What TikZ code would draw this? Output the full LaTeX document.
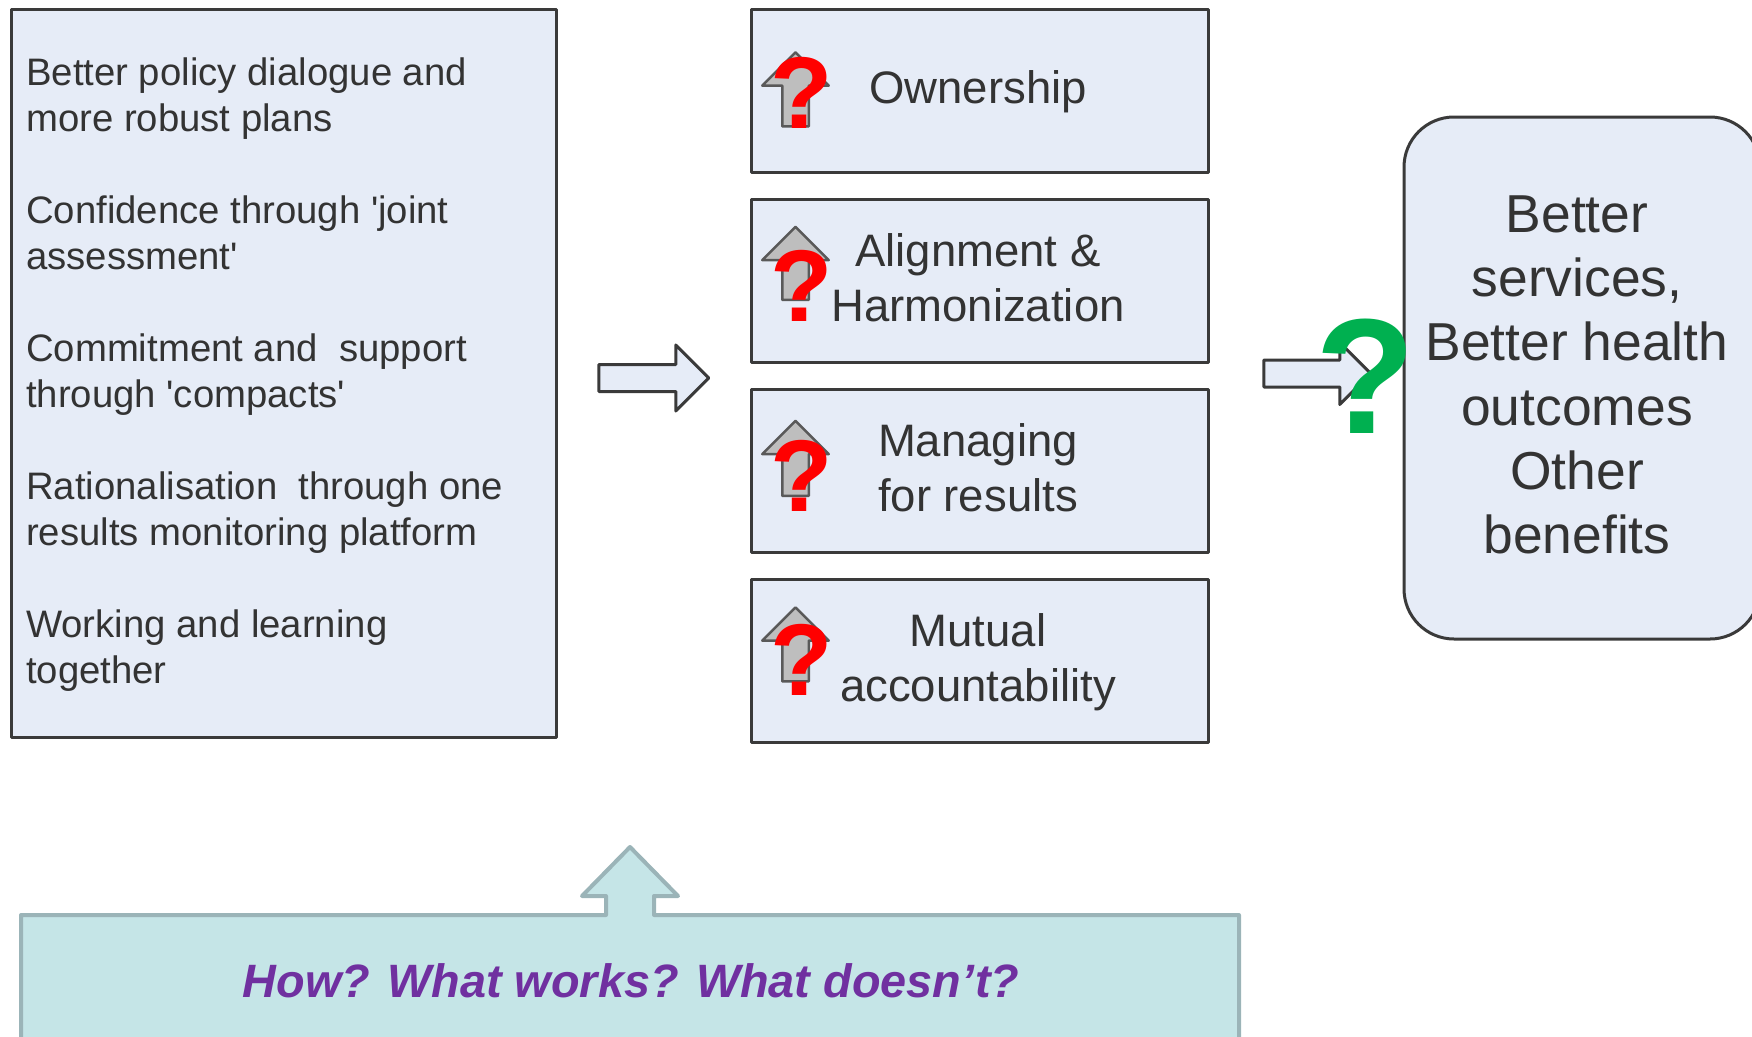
\documentclass[tikz,border=0pt]{standalone}
\usepackage{fontspec}
\setmainfont{Liberation Sans}
\usetikzlibrary{shapes.arrows}
\definecolor{boxfill}{HTML}{E6ECF7}
\definecolor{boxline}{HTML}{3A3A3A}
\definecolor{panelfill}{HTML}{C5E5E7}
\definecolor{panelline}{HTML}{9BB4B8}
\definecolor{upgrey}{HTML}{BEBEBE}
\definecolor{askgreen}{HTML}{00B050}
\definecolor{askpurple}{HTML}{7030A0}
\tikzset{
   panel/.style={rectangle, draw=boxline, fill=boxfill, line width=3pt, line join=round, inner sep=0},
   midbox/.style={panel, minimum width=457, minimum height=163},
   midtext/.style={inner sep=0, align=center, text=black!80, font=\fontsize{45.5}{55}\selectfont},
   leftline/.style={anchor=west, align=left, inner sep=0, text=black!80, font=\fontsize{38.3}{46}\selectfont},
   flow/.style={single arrow, draw=boxline, fill=boxfill, line width=3pt, line join=round, inner sep=12, single arrow head indent=0},
   uparrow/.style={single arrow, draw=black!65, fill=upgrey, line width=2.5pt, line join=round, inner sep=12, shape border rotate=90,
      minimum width=64, single arrow head extend=20},
   redask/.style={anchor=base, inner sep=0, text=red, font=\fontsize{102}{102}\selectfont\bfseries}
}
\begin{document}
\begin{tikzpicture}[x=1pt, y=-1pt]
   \useasboundingbox (0,0) rectangle (1752,1036);

   \node[panel, minimum width=545, minimum height=728] (Inputs) at (283.5,373) {};
   \node[leftline] (L1) at (26,99) {Better policy dialogue and\\more robust plans};
   \node[leftline] (L2) at (26,233) {Confidence through \textquotesingle joint\\assessment\textquotesingle};
   \node[leftline] (L3) at (26,375) {Commitment and~ support\\through \textquotesingle compacts\textquotesingle};
   \node[leftline] (L4) at (26,513) {Rationalisation~ through one\\results monitoring platform};
   \node[leftline] (L5) at (26,651) {Working and learning\\together};

   \node[flow, minimum height=110, minimum width=63, single arrow head extend=19.5] (A1) at (647,378) {};

   \node[midbox] (Own) at (979.5,91) {};
   \node[midbox] (Ali) at (979.5,280.5) {};
   \node[midbox] (Man) at (979.5,470.5) {};
   \node[midbox] (Mut) at (979.5,660.5) {};
   \node[midtext] (OwnT) at (978,92) {Ownership};
   \node[midtext] (AliT) at (978,277.5) {Alignment \&\\Harmonization};
   \node[midtext] (ManT) at (978,467.5) {Managing\\for results};
   \node[midtext] (MutT) at (978,662) {Mutual\\accountability};

   \node[uparrow, minimum height=74] (U1) at (795.5,96) {};
   \node[uparrow, minimum height=73] (U2) at (795.5,270) {};
   \node[uparrow, minimum height=75] (U3) at (795.5,465) {};
   \node[uparrow, minimum height=74] (U4) at (795.5,651) {};
   \node[redask] (Q1) at (802,128) {?};
   \node[redask] (Q2) at (802,321) {?};
   \node[redask] (Q3) at (802,511) {?};
   \node[redask] (Q4) at (802,695) {?};

   \node[flow, minimum height=107, minimum width=58, single arrow head extend=17.5] (A2) at (1310.5,373.5) {};

   \node[panel, rounded corners=50, minimum width=356, minimum height=522] (Out) at (1582,378) {};
   \node[inner sep=0, align=center, text=black!80, font=\fontsize{53.4}{64.3}\selectfont] (OutT) at (1577,375)
      {Better\\services,\\Better health\\outcomes\\Other\\benefits};

   \node[anchor=base, inner sep=0, text=askgreen, font=\fontsize{164}{164}\selectfont\bfseries] (QG) at (1366,433) {?};

   \draw[draw=panelline, fill=panelfill, line width=4pt, line join=round]
      (21,1050) -- (21,915) -- (606,915) -- (606,896) -- (582,896) -- (630,847)
      -- (678,896) -- (654,896) -- (654,915) -- (1239,915) -- (1239,1050) -- cycle;
   \node[inner sep=0, text=askpurple, font=\fontsize{46.8}{50}\selectfont\bfseries\itshape] (How) at (631,981) {How? What works? What doesn’t?};
\end{tikzpicture}
\end{document}
